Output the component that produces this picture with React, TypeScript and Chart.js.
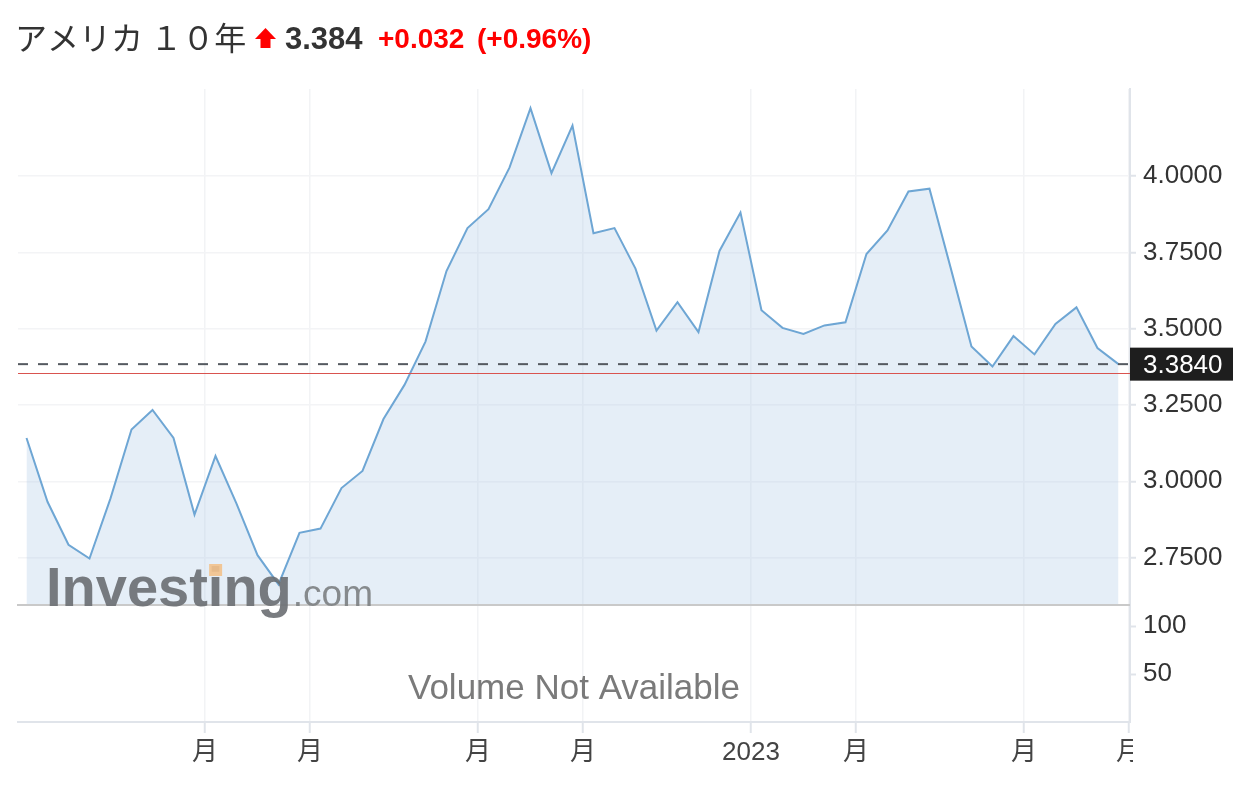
import React, { useEffect, useRef } from 'react';
import { Chart, registerables } from 'chart.js';

Chart.register(...registerables);

// ---- data (weekly closes of the US 10Y yield) ----
const yields = [
  3.142, 2.933, 2.792, 2.747, 2.944, 3.170, 3.234, 3.142, 2.891, 3.083,
  2.927, 2.758, 2.662, 2.831, 2.845, 2.978, 3.034, 3.204, 3.316, 3.458,
  3.689, 3.830, 3.892, 4.028, 4.223, 4.010, 4.166, 3.813, 3.830, 3.697,
  3.494, 3.587, 3.489, 3.755, 3.881, 3.561, 3.503, 3.483, 3.511, 3.521,
  3.745, 3.822, 3.950, 3.959, 3.702, 3.442, 3.376, 3.476, 3.416, 3.516,
  3.570, 3.437, 3.384,
];
const lastPrice = 3.384;
const prevClose = 3.352;
const changeText = '+0.032';
const changePctText = '(+0.96%)';
const titleText = 'アメリカ １０年';

const monthTickPositions = [8.5, 13.5, 21.5, 26.5, 34.5, 39.5, 47.5, 52.5];
const monthTickLabels = ['月', '月', '月', '月', '2023', '月', '月', '月'];
const priceTicks = [2.75, 3.0, 3.25, 3.5, 3.75, 4.0];
const volumeTicks = [50, 100];

const FONT = "'Liberation Sans', 'Noto Sans CJK JP', sans-serif";
const JP_FONT = "'Noto Sans CJK JP', 'Liberation Sans', sans-serif";

const overlayPlugin = {
  id: 'overlay',
  afterDatasetsDraw(chart: any) {
    const { ctx, chartArea, scales } = chart;
    const y = scales.y;
    const left = chartArea.left;
    const right = chartArea.right;
    ctx.save();

    // separator between price and volume panes
    ctx.strokeStyle = '#c9c9c9';
    ctx.lineWidth = 2;
    ctx.beginPath();
    ctx.moveTo(left - 1, y.bottom);
    ctx.lineTo(right, y.bottom);
    ctx.stroke();

    // previous close line (thin red)
    const py = Math.round(y.getPixelForValue(prevClose)) - 0.5;
    ctx.strokeStyle = '#d9534f';
    ctx.lineWidth = 1;
    ctx.beginPath();
    ctx.moveTo(left, py);
    ctx.lineTo(right, py);
    ctx.stroke();

    // last price dashed line
    const ly = y.getPixelForValue(lastPrice);
    ctx.strokeStyle = '#555a60';
    ctx.lineWidth = 2;
    ctx.setLineDash([10, 10]);
    ctx.beginPath();
    ctx.moveTo(left, ly);
    ctx.lineTo(right, ly);
    ctx.stroke();
    ctx.setLineDash([]);

    // watermark
    ctx.globalAlpha = 0.9;
    ctx.textBaseline = 'alphabetic';
    ctx.textAlign = 'left';
    ctx.font = `bold 56px ${FONT}`;
    ctx.fillStyle = '#6a6e72';
    const wx = 46;
    const wy = 606;
    ctx.fillText('Investing', wx, wy);
    const wInvest = ctx.measureText('Invest').width;
    const wI = ctx.measureText('i').width;
    const wAll = ctx.measureText('Investing').width;
    // orange dot on the "i"
    ctx.fillStyle = '#f3c28c';
    ctx.fillRect(wx + wInvest + wI / 2 - 6.5, wy - 42, 13, 12);
    ctx.font = `37px ${FONT}`;
    ctx.fillStyle = '#7c7f82';
    ctx.fillText('.com', wx + wAll + 1, wy);
    ctx.globalAlpha = 1;

    // volume placeholder text
    ctx.font = `35px ${FONT}`;
    ctx.fillStyle = '#7a7a7a';
    ctx.textAlign = 'center';
    ctx.textBaseline = 'middle';
    ctx.fillText('Volume Not Available', (left + right) / 2, 689);

    // last price label on axis
    ctx.fillStyle = '#1e1e1e';
    ctx.fillRect(right, ly - 16.5, 103, 33);
    ctx.fillStyle = '#ffffff';
    ctx.font = `26px ${FONT}`;
    ctx.textAlign = 'left';
    ctx.fillText(lastPrice.toFixed(4), right + 13, ly + 2);

    // clip the last x label like the reference
    ctx.fillStyle = '#ffffff';
    ctx.fillRect(right + 3, 735, 40, 36);

    // header
    ctx.textBaseline = 'middle';
    ctx.textAlign = 'left';
    ctx.font = `32px ${JP_FONT}`;
    ctx.fillStyle = '#333333';
    ctx.fillText(titleText, 15, 38);

    // red up arrow
    ctx.fillStyle = '#ff0000';
    ctx.beginPath();
    ctx.moveTo(255, 39);
    ctx.lineTo(265.5, 28);
    ctx.lineTo(276, 39);
    ctx.closePath();
    ctx.fill();
    ctx.fillRect(260.5, 38, 10, 10);

    ctx.font = `bold 31px ${FONT}`;
    ctx.fillStyle = '#333333';
    ctx.fillText(lastPrice.toFixed(3), 285, 40);

    ctx.font = `bold 28px ${FONT}`;
    ctx.fillStyle = '#ff0000';
    ctx.fillText(changeText, 378, 40);
    ctx.fillText(changePctText, 477, 40);

    ctx.restore();
  },
};

export default function App() {
  const ref = useRef<HTMLCanvasElement | null>(null);

  useEffect(() => {
    document.body.style.margin = '0';
    const canvas = ref.current;
    if (!canvas) return;
    const chart = new Chart(canvas, {
      type: 'line',
      data: {
        datasets: [
          {
            data: yields.map((v, i) => ({ x: i, y: v })),
            borderColor: '#6ea6d4',
            borderWidth: 2,
            backgroundColor: 'rgba(176,203,230,0.33)',
            fill: 'start',
            pointRadius: 0,
            tension: 0,
            xAxisID: 'x',
            yAxisID: 'y',
          },
        ],
      },
      options: {
        responsive: false,
        animation: false,
        devicePixelRatio: 1,
        layout: { padding: { top: 89, left: 18, right: 0, bottom: 0 } },
        plugins: { legend: { display: false }, tooltip: { enabled: false } },
        scales: {
          x: {
            type: 'linear',
            min: -0.405,
            max: 52.55,
            afterBuildTicks: (s: any) => {
              s.ticks = monthTickPositions.map((v) => ({ value: v }));
            },
            afterFit: (s: any) => {
              s.height = 70;
            },
            ticks: {
              autoSkip: false,
              maxRotation: 0,
              padding: 4,
              color: '#444444',
              font: { family: FONT, size: 26 },
              callback: (v: any) => {
                const i = monthTickPositions.indexOf(Number(v));
                return i >= 0 ? monthTickLabels[i] : '';
              },
            },
            grid: {
              color: '#f2f3f5',
              lineWidth: 1.5,
              tickColor: '#e0e4ea',
              tickLength: 11,
              tickWidth: 2,
            },
            border: { color: '#e0e4ea', width: 2 },
          },
          y: {
            type: 'linear',
            position: 'right',
            stack: 'panes',
            stackWeight: 516,
            min: 2.5946,
            max: 4.2858,
            afterBuildTicks: (s: any) => {
              s.ticks = priceTicks.map((v) => ({ value: v }));
            },
            afterFit: (s: any) => {
              s.width = 118;
            },
            ticks: {
              padding: 7,
              color: '#333333',
              font: { family: FONT, size: 26 },
              callback: (v: any) => Number(v).toFixed(4),
            },
            grid: {
              color: '#f3f4f6',
              lineWidth: 1.5,
              tickColor: '#e0e4ea',
              tickLength: 6,
              tickWidth: 2,
            },
            border: { color: '#e0e4ea', width: 2 },
          },
          yVol: {
            type: 'linear',
            position: 'right',
            stack: 'panes',
            stackWeight: 117,
            min: 0,
            max: 122,
            afterBuildTicks: (s: any) => {
              s.ticks = volumeTicks.map((v) => ({ value: v }));
            },
            afterFit: (s: any) => {
              s.width = 118;
            },
            ticks: {
              padding: 7,
              color: '#333333',
              font: { family: FONT, size: 26 },
              callback: (v: any) => String(v),
            },
            grid: {
              drawOnChartArea: false,
              tickColor: '#e0e4ea',
              tickLength: 6,
              tickWidth: 2,
            },
            border: { color: '#e0e4ea', width: 2 },
          },
        },
      } as any,
      plugins: [overlayPlugin],
    });
    return () => chart.destroy();
  }, []);

  return (
    <canvas
      ref={ref}
      width={1248}
      height={792}
      style={{ display: 'block', width: 1248, height: 792 }}
    />
  );
}
